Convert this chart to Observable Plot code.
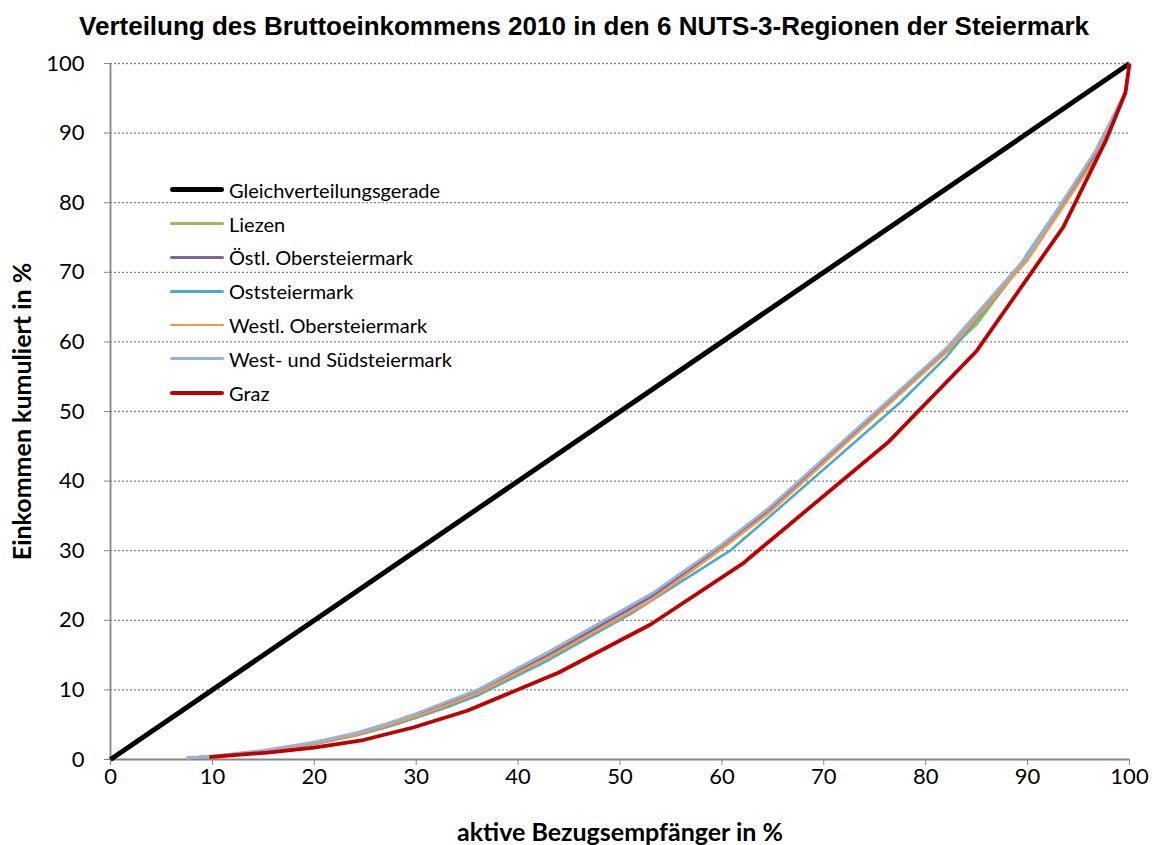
<!DOCTYPE html>
<html>
<head>
<meta charset="utf-8">
<script src="https://cdn.jsdelivr.net/npm/d3@7"></script>
<script src="https://cdn.jsdelivr.net/npm/@observablehq/plot@0.6"></script>
<style>
  body { margin: 0; background: #fff; }
  #wrap { position: relative; width: 1156px; height: 845px; overflow: hidden; }
  #title { position: absolute; left: 6px; top: 11px; width: 1156px; text-align: center;
           font: bold 26px "Liberation Sans", Arial, sans-serif; color: #000; white-space: nowrap; }
  #chart { position: absolute; left: 0; top: 48px; }
  #legend { position: absolute; left: 170px; top: 173px; font: 20px Lato, "Open Sans", sans-serif; color: #000; }
  .row { height: 33.8px; display: flex; align-items: center; white-space: nowrap; }
  .sw { width: 54px; margin-right: 5px; border-radius: 3px; }
</style>
</head>
<body>
<div id="wrap">
  <div id="title">Verteilung des Bruttoeinkommens 2010 in den 6 NUTS-3-Regionen der Steiermark</div>
  <div id="chart"></div>
  <div id="legend"></div>
</div>
<script>
// ---- data ----
const xTicks = [0, 10, 20, 30, 40, 50, 60, 70, 80, 90, 100];
const yTicks = [0, 10, 20, 30, 40, 50, 60, 70, 80, 90, 100];

const seriesNames = ["Gleichverteilungsgerade", "Liezen", "Östl. Obersteiermark", "Oststeiermark",
                     "Westl. Obersteiermark", "West- und Südsteiermark", "Graz"];
const seriesColors = ["#000000", "#9BBB59", "#8064A2", "#4BACC6", "#F79646", "#95B3D7", "#C00000"];

const gleichX = [0, 100];
const gleichY = [0, 100];

const liezenX = [7.5, 10, 15, 20, 24, 27, 30, 33, 36, 43, 52.5, 60, 64, 82, 85, 91.3, 96.5, 99.6, 100];
const liezenY = [0.2, 0.45, 1.2, 2.4, 3.7, 5.0, 6.4, 8.0, 9.8, 15.1, 23.0, 30.6, 35.3, 58.5, 62.5, 74.9, 86.5, 96.0, 100];

const oestlX = [7.5, 10, 15, 20, 24, 27, 30, 33, 36, 43, 53, 60, 64.5, 82, 90, 96.7, 99.6, 100];
const oestlY = [0.2, 0.45, 1.2, 2.4, 3.6, 4.9, 6.3, 7.9, 9.6, 15.0, 23.3, 30.6, 35.6, 58.8, 72.0, 87.0, 95.8, 100];

const ostX = [7.5, 10, 15, 20, 24, 27, 30, 33, 36, 43, 51, 60.8, 65, 77.5, 82, 88, 93.3, 96.5, 99.6, 100];
const ostY = [0.2, 0.4, 1.1, 2.2, 3.4, 4.6, 6.0, 7.5, 9.2, 14.3, 20.9, 30.0, 35.3, 51.3, 57.8, 68.4, 79.8, 87.0, 95.8, 100];

const westlX = [7.5, 10, 15, 20, 24, 27, 30, 33, 36, 43, 53, 60, 64.5, 82, 90, 96.7, 99.6, 100];
const westlY = [0.2, 0.45, 1.15, 2.3, 3.5, 4.8, 6.2, 7.8, 9.5, 14.7, 22.8, 30.3, 35.3, 58.5, 71.8, 86.5, 95.8, 100];

const westSuedX = [7.4, 10, 15, 20, 24, 27, 30, 33, 36, 43, 53.3, 60, 64.5, 82.1, 90, 96.7, 99.6, 100];
const westSuedY = [0.2, 0.5, 1.3, 2.5, 3.8, 5.1, 6.6, 8.3, 10.0, 15.5, 24.0, 30.9, 36.0, 59.2, 72.4, 87.5, 95.8, 100];

const grazX = [9.7, 15.4, 20, 24.8, 29.7, 35, 44, 53, 62, 76.4, 85, 93.5, 97.7, 99.6, 100];
const grazY = [0.35, 1.0, 1.7, 2.8, 4.6, 7.0, 12.5, 19.4, 28.1, 45.7, 58.7, 76.5, 89.0, 95.8, 100];

const xLabel = "aktive Bezugsempfänger in %";
const yLabel = "Einkommen kumuliert in %";

// ---- build tables ----
const xs = [gleichX, liezenX, oestlX, ostX, westlX, westSuedX, grazX];
const ys = [gleichY, liezenY, oestlY, ostY, westlY, westSuedY, grazY];
const widths = [5, 2.6, 2.6, 2.6, 2.6, 2.8, 3.8];
const tables = xs.map((xa, i) => xa.map((x, j) => ({series: seriesNames[i], x, y: ys[i][j]})));

const grey = "#868686";
const tickFont = "Lato, 'Open Sans', sans-serif";

const lineMarks = tables.map((t, i) =>
  Plot.line(t, {x: "x", y: "y", stroke: seriesColors[i], strokeWidth: widths[i],
                strokeLinejoin: "round", strokeLinecap: "butt"}));

const chart = Plot.plot({
  width: 1156,
  height: 797,
  marginLeft: 110,
  marginRight: 27,
  marginTop: 15,
  marginBottom: 86,
  style: {fontFamily: tickFont, fontSize: "22px", background: "white", overflow: "visible"},
  x: {domain: [0, 100]},
  y: {domain: [0, 100]},
  marks: [
    Plot.gridY(yTicks.filter(d => d > 0), {stroke: grey, strokeOpacity: 1, strokeWidth: 1.3, strokeDasharray: "2,2"}),
    Plot.axisX(xTicks, {tickSize: 6, tickPadding: 3, stroke: grey, fill: "#000", label: null, fontSize: 22}),
    Plot.axisY(yTicks, {tickSize: 6, tickPadding: 20, stroke: grey, fill: "#000", label: null, fontSize: 22}),
    Plot.ruleY([0], {stroke: grey, strokeWidth: 1.8}),
    Plot.ruleX([0], {stroke: grey, strokeWidth: 1.8}),
    ...lineMarks,
    Plot.text([xLabel], {frameAnchor: "bottom", dy: 73, fontSize: 25, fontWeight: "bold", fill: "#000",
                         lineAnchor: "middle", textAnchor: "middle"}),
    Plot.text([yLabel], {frameAnchor: "left", dx: -88, rotate: -90, fontSize: 25, fontWeight: "bold", fill: "#000",
                         lineAnchor: "middle", textAnchor: "middle"})
  ]
});
document.getElementById("chart").appendChild(chart);

// ---- legend ----
const leg = document.getElementById("legend");
seriesNames.forEach((name, i) => {
  const row = document.createElement("div");
  row.className = "row";
  const sw = document.createElement("div");
  sw.className = "sw";
  sw.style.height = widths[i] + "px";
  sw.style.background = seriesColors[i];
  const lab = document.createElement("span");
  lab.textContent = name;
  row.appendChild(sw);
  row.appendChild(lab);
  leg.appendChild(row);
});
</script>
</body>
</html>
